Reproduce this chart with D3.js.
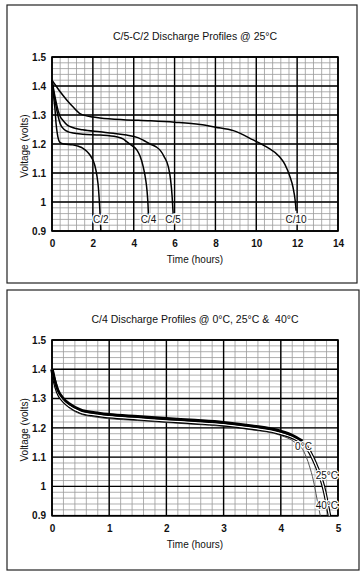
<!DOCTYPE html>
<html><head><meta charset="utf-8">
<script src="https://cdn.jsdelivr.net/npm/d3@7"></script>
<style>
html,body{margin:0;padding:0;background:#fff;}
text{font-family:"Liberation Sans",Arial,sans-serif;fill:#111;white-space:pre;}
</style></head>
<body>
<svg id="chart" width="364" height="576"></svg>
<script>
// ---------- Data: top panel (C-rates @ 25°C) ----------
const topTitle = "C/5-C/2 Discharge Profiles @ 25°C";
const topXTicks = [0, 2, 4, 6, 8, 10, 12, 14];
const yTicks = [0.9, 1, 1.1, 1.2, 1.3, 1.4, 1.5];
const yTickLabels = ["0.9", "1", "1.1", "1.2", "1.3", "1.4", "1.5"];

const c2Time = [0,0.05,0.1,0.15,0.2,0.26,0.32,0.4,0.6,1.0,1.3,1.5,1.7,1.86,2.0,2.1,2.2,2.27,2.32,2.36,2.39];
const c2Volt = [1.42,1.39,1.35,1.317,1.27,1.236,1.215,1.205,1.2,1.197,1.192,1.186,1.175,1.162,1.145,1.125,1.09,1.05,1.0,0.95,0.9];
const c4Time = [0,0.1,0.2,0.3,0.4,0.6,0.8,1.03,1.5,2.35,3.15,3.5,3.65,3.9,4.15,4.3,4.47,4.58,4.65,4.7,4.72];
const c4Volt = [1.42,1.37,1.33,1.295,1.27,1.25,1.242,1.238,1.234,1.231,1.225,1.217,1.208,1.195,1.18,1.16,1.12,1.08,1.04,0.99,0.955];
const c5Time = [0,0.1,0.2,0.3,0.4,0.55,0.75,1.0,1.5,2.35,3.0,3.65,4.2,4.47,4.8,5.1,5.3,5.5,5.7,5.8,5.88,5.93];
const c5Volt = [1.42,1.38,1.345,1.315,1.295,1.28,1.265,1.257,1.249,1.242,1.237,1.231,1.222,1.213,1.2,1.19,1.178,1.155,1.12,1.08,1.02,0.96];
const c10Time = [0,0.2,0.4,0.72,1.0,1.37,2.0,2.35,3.5,4.8,6,7.25,8.0,8.88,9.85,10.5,11.15,11.4,11.65,11.8,11.9,11.95];
const c10Volt = [1.42,1.40,1.38,1.352,1.33,1.305,1.293,1.29,1.284,1.28,1.275,1.267,1.258,1.246,1.214,1.19,1.155,1.13,1.087,1.05,1.007,0.97];
const topLabels = ["C/2", "C/4", "C/5", "C/10"];

// ---------- Data: bottom panel (C/4 @ temperatures) ----------
const botTitle = "C/4 Discharge Profiles @ 0°C, 25°C &  40°C";
const botXTicks = [0, 1, 2, 3, 4, 5];
const t0Time = [0,0.05,0.1,0.2,0.3,0.5,0.75,1,1.5,2,2.5,3,3.5,4,4.2,4.38];
const t0Volt = [1.40,1.36,1.33,1.30,1.283,1.262,1.252,1.246,1.239,1.232,1.226,1.219,1.207,1.189,1.175,1.155];
const t25Time = [0,0.05,0.1,0.2,0.3,0.5,0.75,1,1.5,2,2.5,3,3.5,4,4.3,4.45,4.6,4.7,4.77,4.82,4.85];
const t25Volt = [1.40,1.355,1.322,1.292,1.275,1.254,1.244,1.238,1.231,1.224,1.218,1.211,1.199,1.181,1.158,1.135,1.08,1.03,0.98,0.93,0.9];
const t40Time = [0,0.05,0.1,0.2,0.3,0.5,0.75,1,1.5,2,2.5,3,3.5,4,4.25,4.4,4.5,4.57,4.63,4.69];
const t40Volt = [1.40,1.35,1.316,1.286,1.268,1.247,1.237,1.231,1.225,1.218,1.212,1.205,1.193,1.174,1.15,1.12,1.07,1.02,0.96,0.9];
const botLabels = ["0°C", "25°C", "40°C"];

const xTitle = "Time (hours)";
const yTitle = "Voltage (volts)";

const zip = (ts, vs) => ts.map((t, i) => ({t: t, v: vs[i]}));

const svg = d3.select("#chart");

function panel(cfg) {
  const g = svg.append("g");
  g.append("rect").attr("x", cfg.box[0]).attr("y", cfg.box[1])
    .attr("width", cfg.box[2] - cfg.box[0]).attr("height", cfg.box[3] - cfg.box[1])
    .attr("fill", "none").attr("stroke", "#222").attr("stroke-width", 1.2);

  const x = d3.scaleLinear().domain([0, cfg.xMax]).range([52, 338]);
  const y = d3.scaleLinear().domain([0.9, 1.5]).range([cfg.bottom, cfg.top]);

  const xMinor = d3.range(0, cfg.xMax + 1e-9, cfg.xMinorStep);
  const yMinor = d3.range(0.9, 1.5 + 1e-9, 0.02);
  g.append("g").selectAll("line").data(xMinor).join("line")
    .attr("x1", d => x(d)).attr("x2", d => x(d)).attr("y1", y(0.9)).attr("y2", y(1.5))
    .attr("stroke", "#9a9a9a").attr("stroke-width", 0.8);
  g.append("g").selectAll("line").data(yMinor).join("line")
    .attr("x1", x(0)).attr("x2", x(cfg.xMax)).attr("y1", d => y(d)).attr("y2", d => y(d))
    .attr("stroke", "#9a9a9a").attr("stroke-width", 0.8);
  g.append("g").selectAll("line").data(cfg.xTicks).join("line")
    .attr("x1", d => x(d)).attr("x2", d => x(d)).attr("y1", y(0.9)).attr("y2", y(1.5))
    .attr("stroke", "#000").attr("stroke-width", 1.4);
  g.append("g").selectAll("line").data(yTicks).join("line")
    .attr("x1", x(0)).attr("x2", x(cfg.xMax)).attr("y1", d => y(d)).attr("y2", d => y(d))
    .attr("stroke", "#000").attr("stroke-width", 1.4);
  g.append("rect").attr("x", x(0)).attr("y", y(1.5))
    .attr("width", x(cfg.xMax) - x(0)).attr("height", y(0.9) - y(1.5))
    .attr("fill", "none").attr("stroke", "#000").attr("stroke-width", 1.6);

  const xAxis = g.append("g").attr("transform", `translate(0,${y(0.9)})`)
    .call(d3.axisBottom(x).tickValues(cfg.xTicks).tickSize(0).tickPadding(9).tickFormat(d3.format("d")));
  const yAxis = g.append("g").attr("transform", `translate(${x(0)},0)`)
    .call(d3.axisLeft(y).tickValues(yTicks).tickSize(0).tickPadding(6).tickFormat((d, i) => yTickLabels[i]));
  [xAxis, yAxis].forEach(a => {
    a.select(".domain").remove();
    a.selectAll("text").attr("font-size", 10).attr("font-weight", "bold")
      .attr("font-family", "Liberation Sans, Arial, sans-serif").attr("fill", "#111");
  });

  g.append("text").attr("x", 195).attr("y", cfg.titleY).attr("text-anchor", "middle")
    .attr("font-size", 10.5).text(cfg.title);
  g.append("text").attr("x", 195).attr("y", cfg.xTitleY).attr("text-anchor", "middle")
    .attr("font-size", 10).text(xTitle);
  g.append("text").attr("transform", `translate(28,${(y(0.9) + y(1.5)) / 2 + 2}) rotate(-90)`)
    .attr("text-anchor", "middle").attr("font-size", 10).text(yTitle);

  return {g, x, y};
}

// ---------- top panel ----------
const P1 = panel({box: [7, 5, 357, 283], xMax: 14, xMinorStep: 0.4, xTicks: topXTicks,
  top: 57, bottom: 231, title: topTitle, titleY: 40, xTitleY: 263});
const line1 = d3.line().x(d => P1.x(d.t)).y(d => P1.y(d.v)).curve(d3.curveMonotoneX);
const topSeries = [zip(c2Time, c2Volt), zip(c4Time, c4Volt), zip(c5Time, c5Volt), zip(c10Time, c10Volt)];
P1.g.append("g").selectAll("path").data(topSeries).join("path")
  .attr("d", line1).attr("fill", "none").attr("stroke", "#000").attr("stroke-width", 1.5);
P1.g.append("g").selectAll("text").data(topSeries).join("text")
  .attr("x", d => P1.x(d[d.length - 1].t))
  .attr("y", P1.y(0.9) - 8)
  .attr("text-anchor", "middle").attr("font-size", 10)
  .attr("stroke", "#fff").attr("stroke-width", 3).attr("paint-order", "stroke")
  .text((d, i) => topLabels[i]);

// ---------- bottom panel ----------
const P2 = panel({box: [7, 290, 359, 570], xMax: 5, xMinorStep: 0.2, xTicks: botXTicks,
  top: 340, bottom: 515.7, title: botTitle, titleY: 323, xTitleY: 548});
const line2 = d3.line().x(d => P2.x(d.t)).y(d => P2.y(d.v)).curve(d3.curveMonotoneX);
const s0 = zip(t0Time, t0Volt), s25 = zip(t25Time, t25Volt), s40 = zip(t40Time, t40Volt);
const lg = P2.g.append("g");
lg.append("path").datum(s40).attr("d", line2).attr("fill", "none").attr("stroke", "#555").attr("stroke-width", 1);
lg.append("path").datum(s25).attr("d", line2).attr("fill", "none").attr("stroke", "#000").attr("stroke-width", 3.6);
lg.append("path").datum(s25).attr("d", line2).attr("fill", "none").attr("stroke", "#fff").attr("stroke-width", 1.3);
lg.append("path").datum(s0).attr("d", line2).attr("fill", "none").attr("stroke", "#000").attr("stroke-width", 2.8);

const botLabelPos = [{t: 4.25, v: 1.124}, {t: 4.61, v: 1.025}, {t: 4.61, v: 0.923}];
P2.g.append("g").selectAll("text").data(botLabelPos).join("text")
  .attr("x", d => P2.x(d.t)).attr("y", d => P2.y(d.v))
  .attr("font-size", 10)
  .attr("stroke", "#fff").attr("stroke-width", 2.5).attr("paint-order", "stroke")
  .text((d, i) => botLabels[i]);
</script>
</body></html>
